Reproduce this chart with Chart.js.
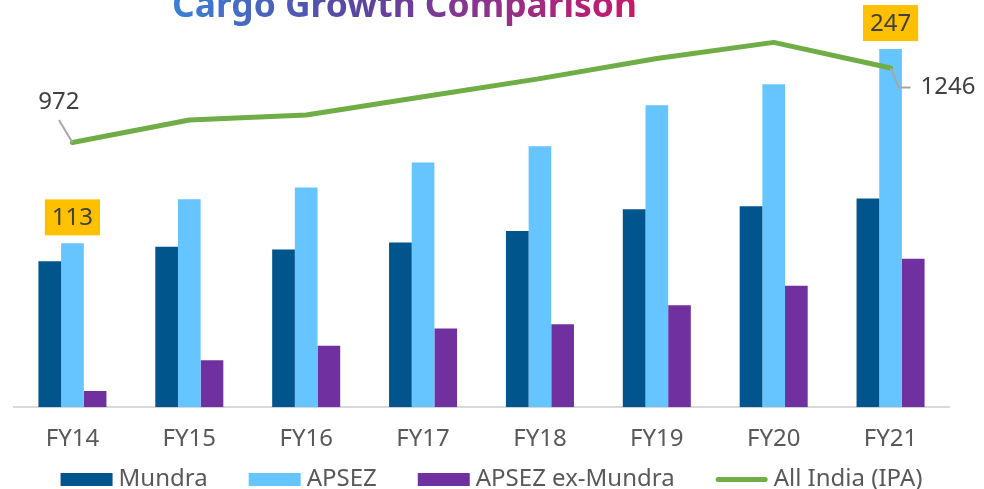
<!DOCTYPE html>
<html>
<head>
<meta charset="utf-8">
<script src="https://cdn.jsdelivr.net/npm/chart.js@4.4.0/dist/chart.umd.min.js"></script>
<style>
  html, body { margin: 0; padding: 0; background: #ffffff; }
  #wrap { position: relative; width: 984px; height: 489px; }
</style>
</head>
<body>
<div id="wrap"><canvas id="c" width="984" height="489"></canvas></div>
<script>
const categories = ['FY14', 'FY15', 'FY16', 'FY17', 'FY18', 'FY19', 'FY20', 'FY21'];
const mundra    = [100.7, 110.6, 108.8, 113.6, 121.6, 136.6, 138.6, 143.9];
const apsez     = [113, 143.4, 151.5, 168.8, 180, 208.3, 222.8, 247];
const exMundra  = [11.2, 32.4, 42.3, 54.3, 57.2, 70.3, 83.7, 102.3];
const allIndia  = [972, 1055, 1073, 1140, 1207, 1281, 1340, 1246];
const seriesNames = ['Mundra', 'APSEZ', 'APSEZ ex-Mundra', 'All India (IPA)'];
const titleText = 'Cargo Growth Comparison';
const boxedLabels = { dataset: 1, indices: [0, 7], texts: ['113', '247'] };
const lineLabels = { indices: [0, 7], texts: ['972', '1246'] };

const FONT = '"Noto Sans", "Open Sans", sans-serif';

const labelPlugin = {
  id: 'labels',
  afterDatasetsDraw(chart) {
    const ctx = chart.ctx;
    ctx.save();
    ctx.font = '24px ' + FONT;
    ctx.textAlign = 'center';
    ctx.textBaseline = 'middle';
    const mb = chart.getDatasetMeta(boxedLabels.dataset);
    boxedLabels.indices.forEach((idx, k) => {
      const el = mb.data[idx];
      const t = boxedLabels.texts[k];
      const bw = ctx.measureText(t).width + 14;
      const bh = 36;
      const bottom = el.y - 8;
      ctx.fillStyle = '#FFC000';
      ctx.fillRect(el.x - bw / 2, bottom - bh, bw, bh);
      ctx.fillStyle = '#404040';
      ctx.fillText(t, el.x, bottom - bh / 2 + 1);
    });
    const ml = chart.getDatasetMeta(3);
    const p0 = ml.data[lineLabels.indices[0]];
    const p7 = ml.data[lineLabels.indices[1]];
    ctx.strokeStyle = '#A6A6A6';
    ctx.lineWidth = 2;
    ctx.beginPath();
    ctx.moveTo(p0.x - 13.5, p0.y - 22.5);
    ctx.lineTo(p0.x, p0.y);
    ctx.stroke();
    ctx.beginPath();
    ctx.moveTo(p7.x, p7.y);
    ctx.lineTo(p7.x + 8.5, p7.y + 19.5);
    ctx.lineTo(p7.x + 20, p7.y + 19.5);
    ctx.stroke();
    ctx.fillStyle = '#404040';
    ctx.fillText(lineLabels.texts[0], p0.x - 13.5, p0.y - 40.5);
    ctx.fillText(lineLabels.texts[1], p7.x + 57.5, p7.y + 19.5);
    ctx.restore();
  },
  afterDraw(chart) {
    const ctx = chart.ctx;
    ctx.save();
    // Title
    ctx.font = 'bold 35px ' + FONT;
    const w0 = ctx.measureText(titleText).width;
    const fs = 35 * 465 / w0;
    ctx.font = 'bold ' + fs.toFixed(2) + 'px ' + FONT;
    const left = 172, right = 637;
    const g = ctx.createLinearGradient(left, 0, right, 0);
    g.addColorStop(0, '#3a80d8');
    g.addColorStop(0.4, '#5a45a2');
    g.addColorStop(0.65, '#88358f');
    g.addColorStop(1, '#c8186a');
    ctx.fillStyle = g;
    ctx.textAlign = 'left';
    ctx.textBaseline = 'alphabetic';
    ctx.fillText(titleText, left, 17);
    // Legend
    ctx.font = '24px ' + FONT;
    ctx.textBaseline = 'middle';
    const ds = chart.data.datasets;
    const boxW = 52, gapText = 6, gapItem = 41, cy = 479.5;
    const widths = ds.map(d => boxW + gapText + ctx.measureText(d.label).width);
    const total = widths.reduce((a, b) => a + b, 0) + gapItem * (ds.length - 1);
    let x = 491.5 - total / 2;
    ds.forEach((d, i) => {
      if (d.type === 'line') {
        ctx.strokeStyle = d.borderColor;
        ctx.lineWidth = 5;
        ctx.lineCap = 'round';
        ctx.beginPath();
        ctx.moveTo(x + 2.5, cy);
        ctx.lineTo(x + boxW - 2.5, cy);
        ctx.stroke();
      } else {
        ctx.fillStyle = d.backgroundColor;
        ctx.fillRect(x, cy - 6.5, boxW, 13);
      }
      ctx.fillStyle = '#595959';
      ctx.fillText(d.label, x + boxW + gapText, cy);
      x += widths[i] + gapItem;
    });
    ctx.restore();
  }
};

new Chart(document.getElementById('c'), {
  data: {
    labels: categories,
    datasets: [
      { type: 'bar', label: seriesNames[0], data: mundra, backgroundColor: '#00558C', borderColor: '#00558C', yAxisID: 'y', order: 1 },
      { type: 'bar', label: seriesNames[1], data: apsez, backgroundColor: '#66C5FF', borderColor: '#66C5FF', yAxisID: 'y', order: 1 },
      { type: 'bar', label: seriesNames[2], data: exMundra, backgroundColor: '#7030A0', borderColor: '#7030A0', yAxisID: 'y', order: 1 },
      { type: 'line', label: seriesNames[3], data: allIndia, borderColor: '#70AD47', backgroundColor: '#70AD47', borderWidth: 5, pointRadius: 0, tension: 0, borderJoinStyle: 'round', borderCapStyle: 'round', yAxisID: 'y2', order: 0 }
    ]
  },
  options: {
    responsive: false,
    animation: false,
    devicePixelRatio: 1,
    datasets: { bar: { categoryPercentage: 0.582, barPercentage: 1 } },
    layout: { padding: { left: 14, right: 14, top: 7, bottom: 25 } },
    scales: {
      x: {
        grid: { display: false },
        border: { display: true, color: '#D9D9D9', width: 2 },
        ticks: { color: '#595959', font: { family: FONT, size: 24 }, padding: 10 }
      },
      y: { display: false, min: 0, max: 276 },
      y2: {
        display: true, position: 'right', min: 0, max: 1470,
        grid: { display: false }, border: { display: false },
        ticks: { display: false },
        afterFit(s) { s.width = 21; }
      }
    },
    plugins: {
      tooltip: { enabled: false },
      legend: { display: false }
    }
  },
  plugins: [labelPlugin]
});
</script>
</body>
</html>
